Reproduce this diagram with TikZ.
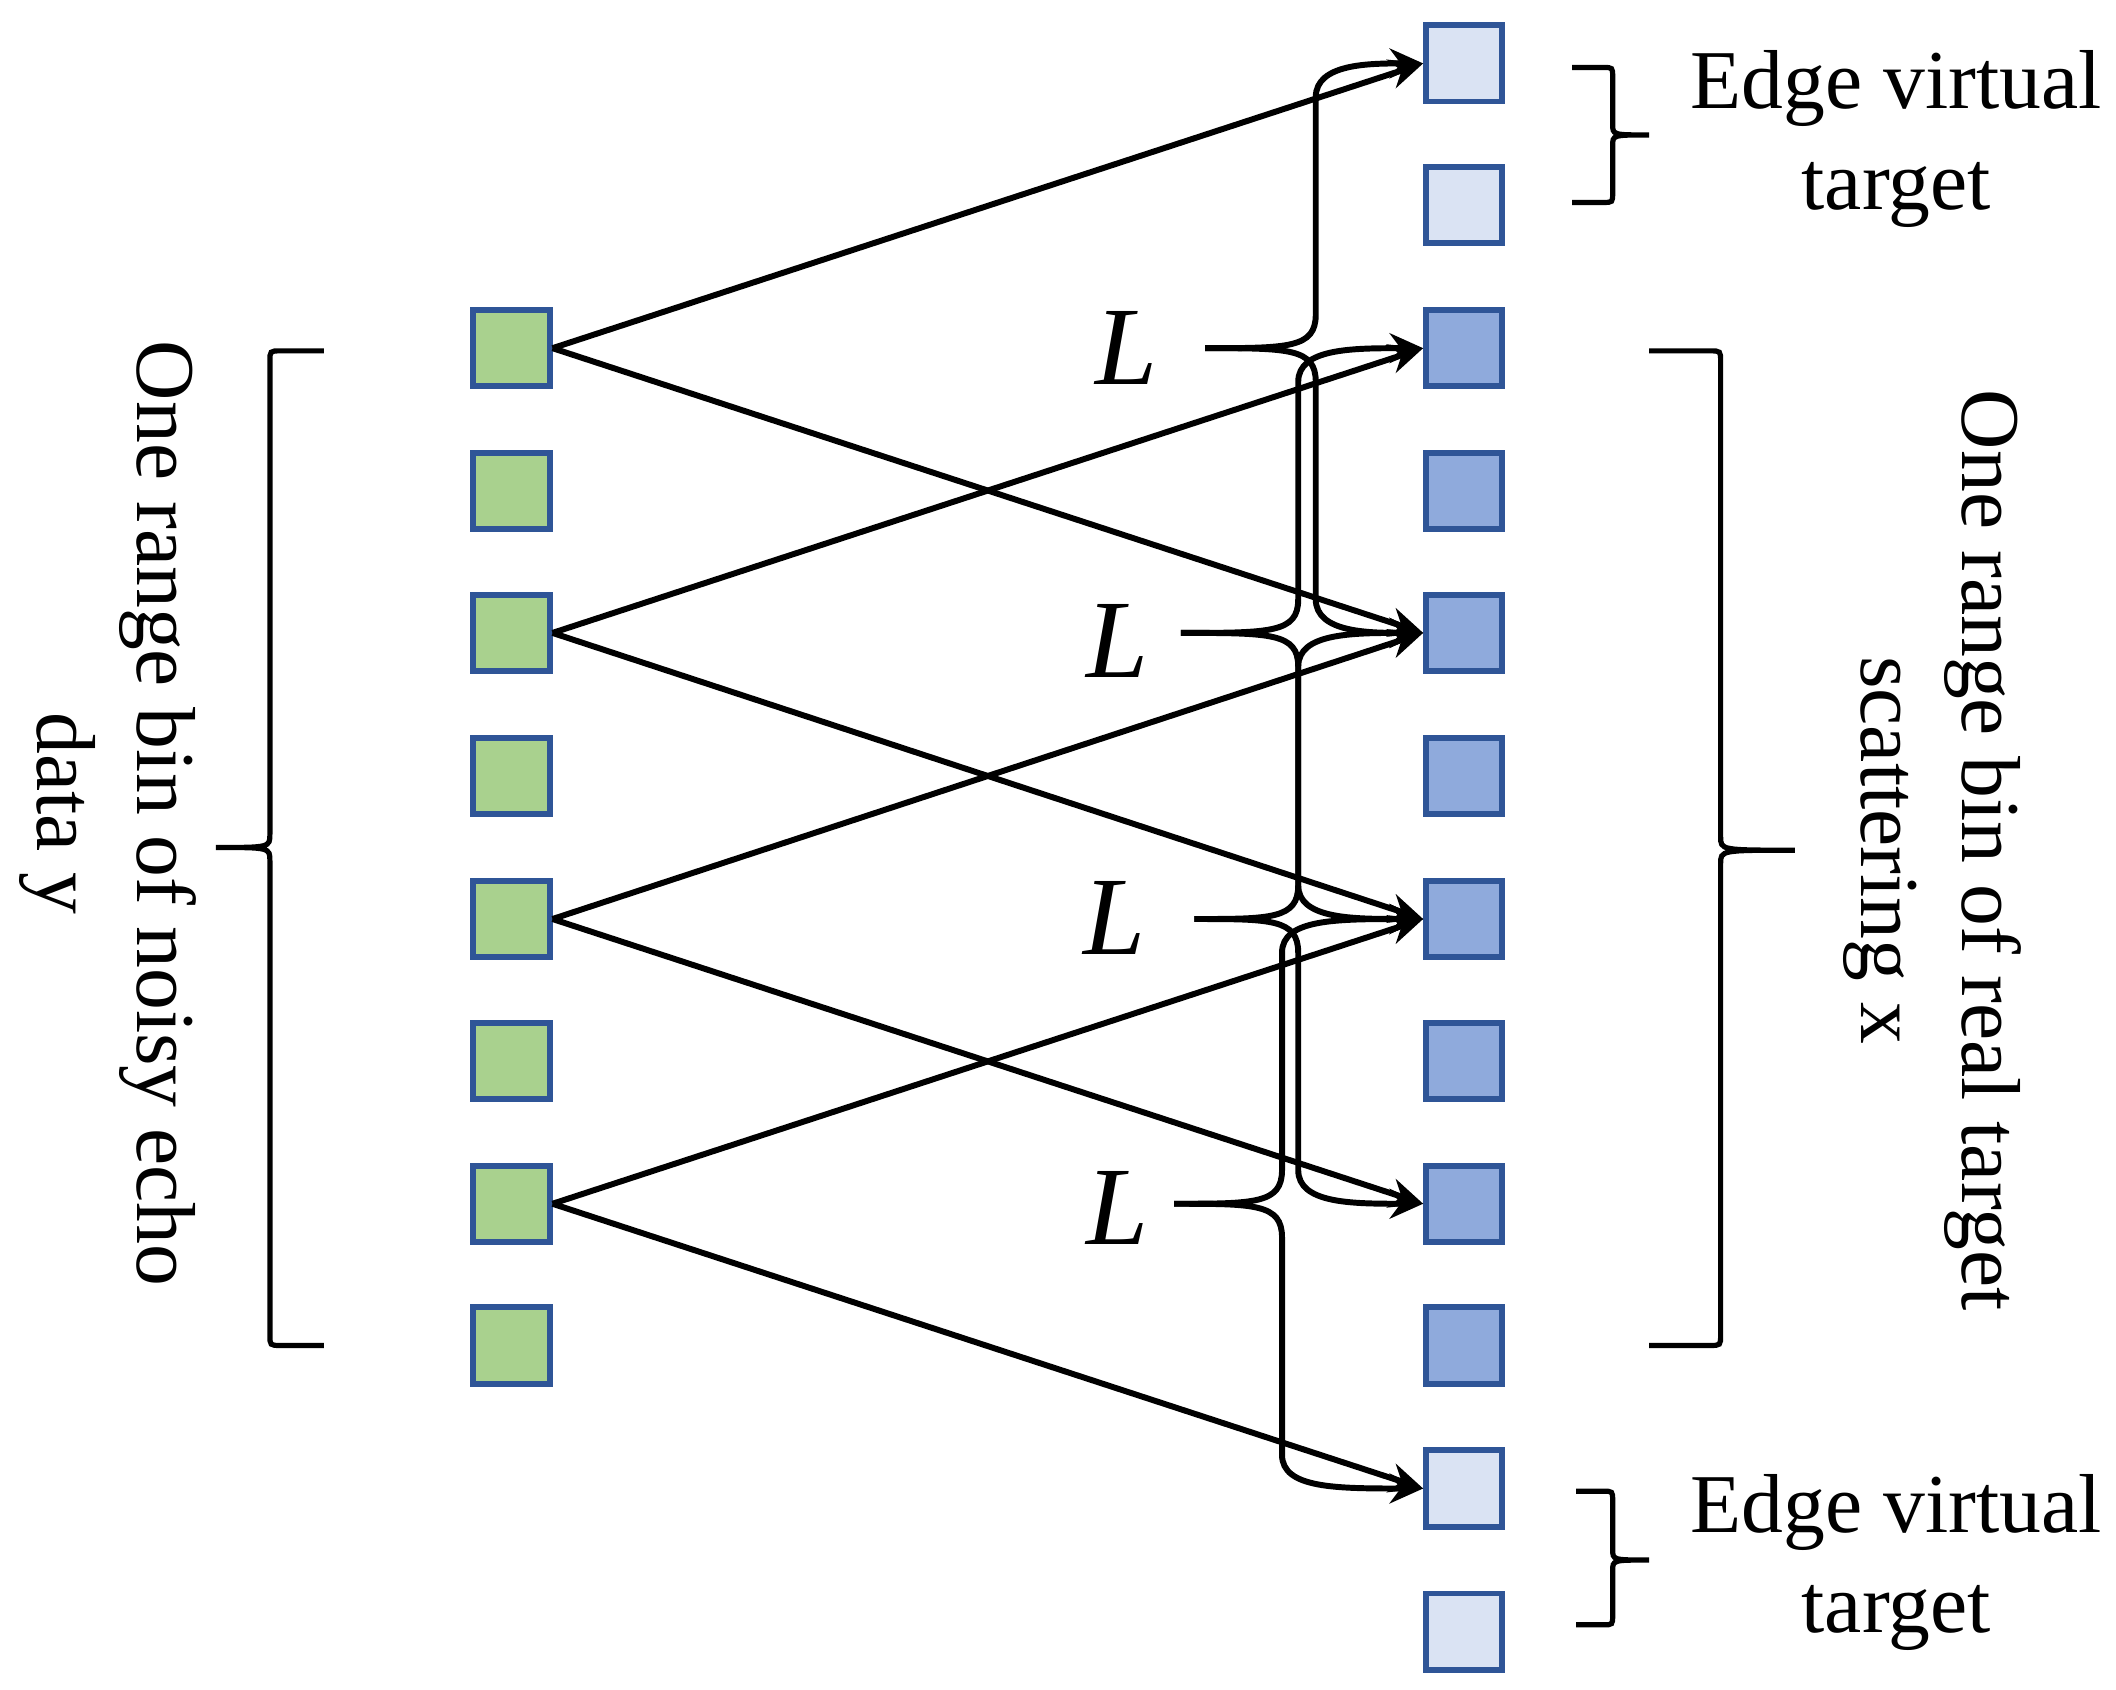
\documentclass[tikz,border=0pt]{standalone}
\usepackage{fontspec}
\setmainfont{Liberation Serif}
\usetikzlibrary{arrows.meta}
\definecolor{gr}{HTML}{A9D18E}
\definecolor{bl}{HTML}{8FAADC}
\definecolor{lb}{HTML}{DAE3F3}
\definecolor{bd}{HTML}{2F5597}
\begin{document}
\begin{tikzpicture}[x=0.01276cm,y=-0.01276cm,
 sq/.style={draw=bd,line width=1.6pt,minimum size=0.72cm,inner sep=0pt},
 ar/.style={line width=1.6pt,-{Stealth[length=9pt,width=8pt]}},
 br/.style={line width=1.4pt},
 txt/.style={font=\fontsize{22.5}{27}\selectfont,align=center},
 lb/.style={font=\fontsize{30}{32}\selectfont\itshape}]
\useasboundingbox (0,0) rectangle (1568,1252);
\foreach \i/\y in {1/258,2/364,3/469,4/575,5/681,6/786,7/892,8/997}
  \node[sq,fill=gr] (l\i) at (379,\y) {};
\foreach \i/\y/\c in {1/47/lb,2/152/lb,3/258/bl,4/364/bl,5/469/bl,6/575/bl,7/681/bl,8/786/bl,9/892/bl,10/997/bl,11/1103/lb,12/1209/lb}
  \node[sq,fill=\c] (r\i) at (1085,\y) {};
\draw[ar] (l1.east) -- (r1.west);
\draw[ar] (l1.east) -- (r5.west);
\draw[ar] (l3.east) -- (r3.west);
\draw[ar] (l3.east) -- (r7.west);
\draw[ar] (l5.east) -- (r5.west);
\draw[ar] (l5.east) -- (r9.west);
\draw[ar] (l7.east) -- (r7.west);
\draw[ar] (l7.east) -- (r11.west);
% L braces
\foreach \t/\x/\ty/\a/\b/\ra/\rb in {893/975/258/47/469/r1/r5, 875/962/469/258/681/r3/r7, 885/962/681/469/892/r5/r9, 870/950/892/681/1103/r7/r11}{
  \coordinate (tA) at (\t,\ty);
  \draw[ar] (tA) .. controls (\x-20,\ty) and (\x,\ty) .. (\x,\ty-25) -- (\x,\a+25) .. controls (\x,\a) and (\x+40,\a) .. (\ra.west);
  \draw[ar] (tA) .. controls (\x-20,\ty) and (\x,\ty) .. (\x,\ty+25) -- (\x,\b-25) .. controls (\x,\b) and (\x+40,\b) .. (\rb.west);
}
\node[lb] (L1) at (835,258) {L};
\node[lb] (L2) at (828,475) {L};
\node[lb] (L3) at (826,680) {L};
\node[lb] (L4) at (828,895) {L};
% big braces (bracket style)
\draw[br] (240,260) -- (208,260) .. controls (200,260) .. (200,268) -- (200,618) .. controls (200,628) .. (160,628)
  .. controls (200,628) .. (200,638) -- (200,989) .. controls (200,997) .. (208,997) -- (240,997);
\draw[br] (1222,260) -- (1267,260) .. controls (1275,260) .. (1275,268) -- (1275,620) .. controls (1275,630) .. (1330,630)
  .. controls (1275,630) .. (1275,640) -- (1275,989) .. controls (1275,997) .. (1267,997) -- (1222,997);
\draw[br] (1165,50) -- (1188,50) .. controls (1195,50) .. (1195,57) -- (1195,92) .. controls (1195,100) .. (1222,100)
  .. controls (1195,100) .. (1195,108) -- (1195,143) .. controls (1195,150) .. (1188,150) -- (1165,150);
\draw[br] (1168,1105) -- (1188,1105) .. controls (1195,1105) .. (1195,1112) -- (1195,1148) .. controls (1195,1156) .. (1222,1156)
  .. controls (1195,1156) .. (1195,1164) -- (1195,1197) .. controls (1195,1204) .. (1188,1204) -- (1168,1204);
\node[txt,rotate=-90] (t1) at (80,603) {One range bin of noisy echo\\data y};
\node[txt,rotate=-90] (t2) at (1432,630) {One range bin of real target\\scattering x};
\node[txt] (t3) at (1405,103) {Edge virtual\\target};
\node[txt] (t4) at (1405,1158) {Edge virtual\\target};
\end{tikzpicture}
\end{document}
